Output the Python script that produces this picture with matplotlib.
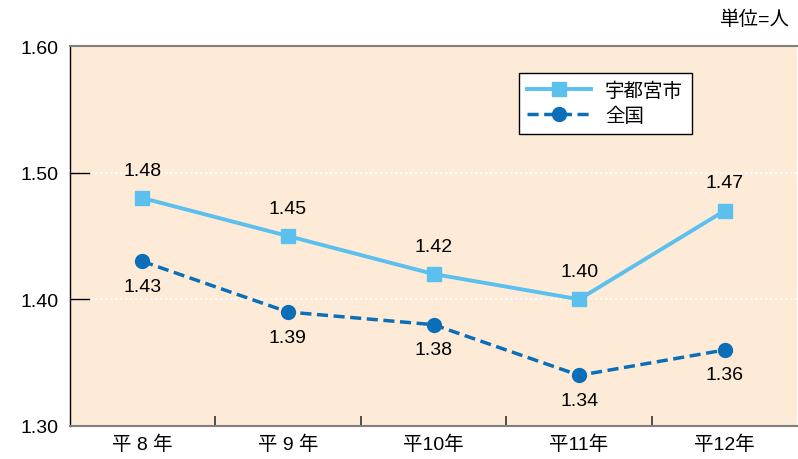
import numpy as np
import matplotlib.pyplot as plt

plt.rcParams['font.family'] = ['Liberation Sans', 'Noto Sans CJK JP', 'DejaVu Sans']

# data
years = ['平 8 年', '平 9 年', '平10年', '平11年', '平12年']
utsunomiya = [1.48, 1.45, 1.42, 1.40, 1.47]
zenkoku = [1.43, 1.39, 1.38, 1.34, 1.36]

c_city = '#5BC0EE'
c_nat = '#0A6FB8'

fig = plt.figure(figsize=(7.98, 4.6), dpi=100)
ax = fig.add_axes([69.5 / 798, 33 / 460, 728 / 798, 380 / 460])
ax.set_facecolor('#FDEBD7')

x = np.arange(len(years))
ax.plot(x, utsunomiya, color=c_city, lw=2.8, marker='s', ms=10, label='宇都宮市', zorder=3)
ax.plot(x, zenkoku, color=c_nat, lw=2.5, ls=(0, (3.2, 1.6)), marker='o', ms=10,
        label='全国', zorder=3)

# value labels
for i, v in enumerate(utsunomiya):
    ax.annotate(f'{v:.2f}', (i, v), xytext=(0, 20), textcoords='offset points',
                ha='center', va='center', fontsize=14)
for i, v in enumerate(zenkoku):
    ax.annotate(f'{v:.2f}', (i, v), xytext=(0, -18), textcoords='offset points',
                ha='center', va='center', fontsize=14)

ax.set_xlim(-0.5, len(years) - 0.5)
ax.set_ylim(1.30, 1.60)
ax.set_yticks([1.30, 1.40, 1.50, 1.60])
ax.set_yticklabels(['1.30', '1.40', '1.50', '1.60'], fontsize=14)
ax.tick_params(axis='y', length=0, pad=8)

# short inward marks at the inner y ticks
for yv in [1.40, 1.50]:
    ax.plot([-0.5, -0.5 + 19 / 145.6], [yv, yv], color='black', lw=1, zorder=2,
            clip_on=False)

# category ticks between groups, labels at centres
ax.set_xticks(x)
ax.set_xticklabels(years, fontsize=14)
ax.set_xticks(np.arange(0.5, len(years) - 0.5), minor=True)
ax.tick_params(axis='x', which='major', length=0, pad=6)
ax.tick_params(axis='x', which='minor', length=7, direction='in', width=1.2,
               color='#333333')

for yv in [1.40, 1.50]:
    ax.axhline(yv, color='white', ls=(0, (1.5, 1.5)), lw=1.2, zorder=1)

ax.spines['top'].set_color('#7F7F7F')
ax.spines['top'].set_linewidth(1.5)
ax.spines['bottom'].set_color('#7F7F7F')
ax.spines['bottom'].set_linewidth(1.5)
ax.spines['right'].set_visible(False)
ax.spines['left'].set_linewidth(1)

leg = ax.legend(loc='upper left', bbox_to_anchor=(449 / 728, 1 - 27 / 380),
                fontsize=14, frameon=True, fancybox=False, handlelength=3.3,
                borderpad=0.45, labelspacing=0.35, handletextpad=0.7,
                borderaxespad=0)
leg.get_frame().set_edgecolor('black')
leg.get_frame().set_linewidth(1)
leg.get_frame().set_facecolor('white')
leg.get_frame().set_alpha(1)

fig.text(790 / 798, 1 - 20 / 460, '単位=人', ha='right', va='center', fontsize=14)

fig.savefig('out.png', dpi=100)
